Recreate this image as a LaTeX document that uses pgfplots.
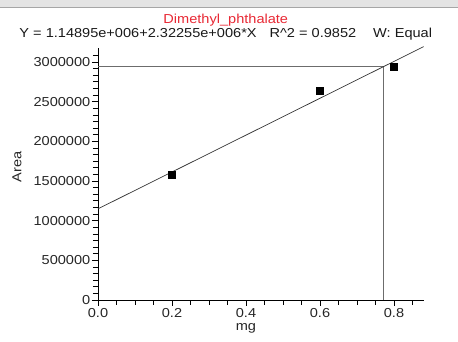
\documentclass[border=0pt]{standalone}
\usepackage{fontspec}
\setmainfont[FakeStretch=1.12]{Liberation Sans}
\usepackage{pgfplots}
\pgfplotsset{compat=1.18}
\definecolor{ttlred}{RGB}{232,40,52}
\definecolor{bargray}{RGB}{228,228,228}
\begin{document}
\begin{tikzpicture}[x=1pt,y=1pt]
\path[use as bounding box] (0,0) rectangle (458,342);
\fill[bargray] (0,334) rectangle (458,342);
\draw[gray!70,line width=1pt] (0,334) -- (458,334);
\begin{axis}[
  at={(98pt,42pt)}, anchor=south west,
  scale only axis, width=325.6pt, height=252pt,
  xmin=0, xmax=0.88, ymin=0, ymax=3176000,
  axis x line=bottom, axis y line=left,
  axis line style={-, black, line width=0.8pt},
  tick align=outside, major tick length=6pt, minor tick length=5pt,
  tick style={black, line width=0.7pt},
  scaled y ticks=false, scaled x ticks=false,
  xtick={0,0.2,0.4,0.6,0.8},
  xticklabels={0.0,0.2,0.4,0.6,0.8},
  minor xtick={0.05,0.1,0.15,0.25,0.3,0.35,0.45,0.5,0.55,0.65,0.7,0.75,0.85},
  ytick={0,500000,1000000,1500000,2000000,2500000,3000000},
  yticklabels={0,500000,1000000,1500000,2000000,2500000,3000000},
  minor ytick={83333,166667,250000,333333,416667,583333,666667,750000,833333,916667,1083333,1166667,1250000,1333333,1416667,1583333,1666667,1750000,1833333,1916667,2083333,2166667,2250000,2333333,2416667,2583333,2666667,2750000,2833333,2916667,3083333},
  /pgf/number format/assume math mode=true,
  ticklabel style={font=\fontsize{13}{14}\selectfont, text=black!85},
  xticklabel style={inner sep=1pt, yshift=-1pt},
  yticklabel style={inner sep=1.5pt},
  xlabel={mg},
  ylabel={Area},
  label style={font=\fontsize{13}{14}\selectfont, text=black!85},
  x label style={at={(axis description cs:0.4545,-0.111)}, anchor=center},
  y label style={at={(axis description cs:-0.249,0.528)}, anchor=center},
  title={\textcolor{ttlred}{Dimethyl\_phthalate}\\Y = 1.14895e+006+2.32255e+006*X\quad R\^{}2 = 0.9852\quad\ W: Equal},
  title style={at={(axis description cs:0.3925,1.06)}, anchor=center, align=center, font=\fontsize{13}{14}\selectfont, text=black!90},
  clip=false,
]
% crosshair at last standard
\addplot[gray!85!black, line width=1pt] coordinates {(0,2941200) (0.7717,2941200) (0.7717,0)};
% regression line
\addplot[black!80, line width=0.7pt] coordinates {(0,1148950) (0.88,3192794)};
% standards
\addplot[only marks, mark=square*, mark size=3.4pt, black] coordinates {(0.2,1580600) (0.6,2641100) (0.8,2941200)};
\end{axis}
\end{tikzpicture}
\end{document}
